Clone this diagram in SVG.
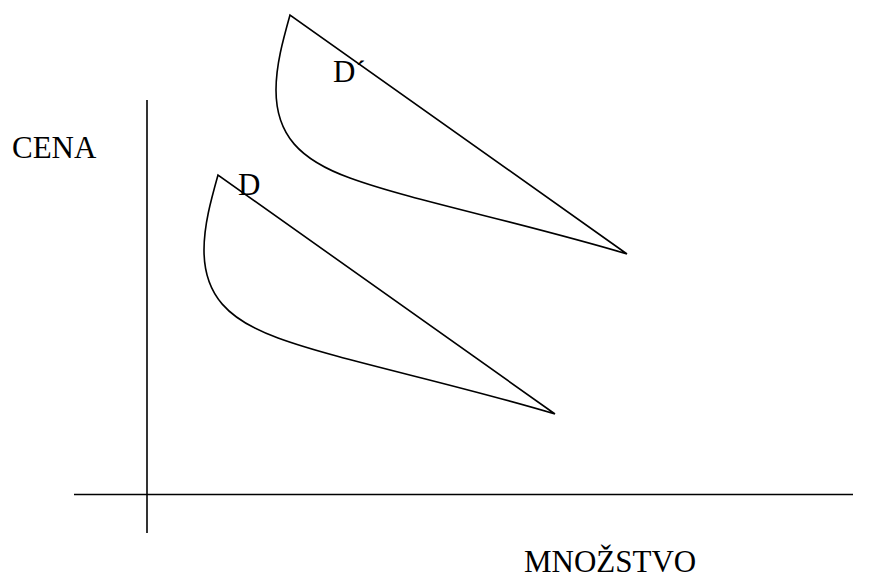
<svg xmlns="http://www.w3.org/2000/svg" width="883" height="579" viewBox="0 0 883 579">
<style>
.ln{fill:none;stroke:#000;stroke-width:1.6;stroke-linejoin:miter}
.t{font-family:"Liberation Serif","Times New Roman",serif;font-size:31px;fill:#000}
</style>
<rect width="883" height="579" fill="#fff"/>
<g id="axes">
<line class="ln" x1="74" y1="494.5" x2="853" y2="494.5"/>
<line class="ln" x1="147" y1="100" x2="147" y2="533"/>
</g>
<g id="curve-d-prime">
<path class="ln" d="M627,254 L290,15 C283,40 276,65 276,90 C276,135 300,160 350,178 C410,200 520,222 627,254"/>
</g>
<g id="curve-d">
<path class="ln" d="M555,414 L218,175 C211,200 204,225 204,250 C204,295 228,320 278,338 C338,360 448,382 555,414"/>
</g>
<g id="labels">
<text class="t" x="12" y="158">CENA</text>
<text class="t" x="333" y="82">D´</text>
<text class="t" x="238" y="195">D</text>
<text class="t" x="524" y="572">MNOŽSTVO</text>
</g>
</svg>
